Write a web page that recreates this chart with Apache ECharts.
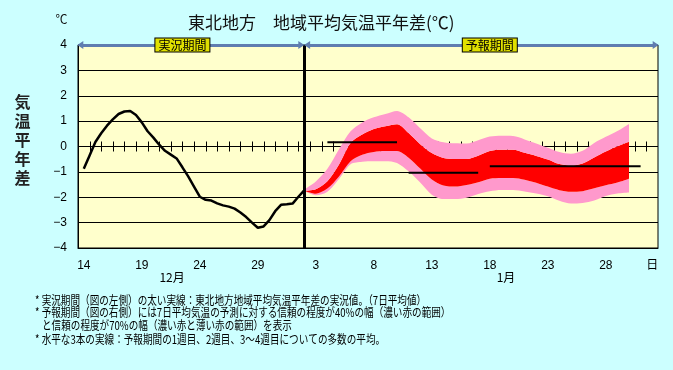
<!DOCTYPE html>
<html><head><meta charset="utf-8">
<script src="https://cdn.jsdelivr.net/npm/echarts@6/dist/echarts.min.js"></script>
<style>html,body{margin:0;padding:0;background:#ccffff;}#c{width:673px;height:370px;}</style>
</head><body><div id="c"></div>
<script>
// ---- data ----
const days = ['12/14','12/15','12/16','12/17','12/18','12/19','12/20','12/21','12/22','12/23','12/24','12/25','12/26','12/27','12/28','12/29','12/30','12/31',
  '1/1','1/2','1/3','1/4','1/5','1/6','1/7','1/8','1/9','1/10','1/11','1/12','1/13','1/14','1/15','1/16','1/17','1/18','1/19','1/20','1/21','1/22','1/23','1/24','1/25','1/26','1/27','1/28','1/29','1/30','1/31','2/1'];
const monthAt = ['12/22','1/20'];
const monthNames = ['12月','1月'];
const xUnit = '日';
const periodNames = ['実況期間','予報期間'];

// observed 7-day mean anomaly (day offset from 12/14, value)
const obsDay = [0,0.5,1,1.5,2,2.5,3,3.5,4,4.5,5,5.5,6,6.5,7,7.5,8,8.5,9,9.5,10,10.5,11,11.5,12,12.5,13,13.5,14,14.5,15,15.5,16,16.5,17,17.5,18,18.5,19];
const obsVal = [-0.88,-0.35,0.18,0.52,0.82,1.07,1.28,1.38,1.40,1.24,0.95,0.60,0.35,0.07,-0.17,-0.32,-0.47,-0.82,-1.18,-1.58,-1.98,-2.10,-2.13,-2.24,-2.32,-2.37,-2.45,-2.60,-2.78,-3.00,-3.20,-3.15,-2.90,-2.55,-2.30,-2.28,-2.25,-1.98,-1.73];

// forecast bands from 1/2 to 1/30
const bandFrom = '1/2';
const upper70 = [-1.70,-1.38,-0.88,-0.11,0.60,0.95,1.15,1.28,1.40,1.15,0.72,0.32,0.17,0.13,0.12,0.25,0.39,0.42,0.41,0.28,0.12,-0.05,-0.22,-0.29,-0.17,0.14,0.38,0.61,0.89];
const upper40 = [-1.74,-1.68,-1.37,-0.71,0.14,0.47,0.69,0.80,0.88,0.53,0.09,-0.26,-0.45,-0.49,-0.49,-0.36,-0.18,-0.13,-0.13,-0.25,-0.37,-0.51,-0.69,-0.75,-0.67,-0.43,-0.20,0.01,0.19];
const lower40 = [-1.74,-1.86,-1.66,-1.18,-0.58,-0.33,-0.22,-0.18,-0.18,-0.44,-0.87,-1.30,-1.54,-1.58,-1.52,-1.41,-1.27,-1.24,-1.24,-1.31,-1.43,-1.58,-1.72,-1.78,-1.76,-1.65,-1.53,-1.42,-1.27];
const lower70 = [-1.74,-1.92,-1.78,-1.28,-0.70,-0.60,-0.58,-0.58,-0.65,-0.98,-1.42,-1.90,-2.07,-2.07,-2.02,-1.87,-1.76,-1.71,-1.71,-1.77,-1.85,-1.96,-2.14,-2.25,-2.23,-2.13,-1.95,-1.85,-1.81];

// weekly means (week1, week2, weeks3-4)
const weekStart = ['1/4','1/11','1/18'];
const weekEnd = ['1/10','1/17','1/31'];
const weekMean = [0.17,-1.03,-0.78];

const notes = [
  '* 実況期間（図の左側）の太い実線：東北地方地域平均気温平年差の実況値。（7日平均値）',
  '* 予報期間（図の右側）には7日平均気温の予測に対する信頼の程度が40%の幅（濃い赤の範囲）',
  'と信頼の程度が70%の幅（濃い赤と薄い赤の範囲）を表示',
  '* 水平な3本の実線：予報期間の1週目、2週目、3～4週目についての多数の平均。'
];
const titleText = '東北地方　地域平均気温平年差(℃)';
const yName = '気温平年差';
const yUnit = '℃';

// ---- build ----
const FONT = "'Liberation Sans','Noto Sans CJK JP',sans-serif";
const JFONT = "'Noto Sans CJK JP',sans-serif";
const b0 = days.indexOf(bandFrom);
function pad(arr){ const out = days.map(()=>null); arr.forEach((v,i)=>{ out[b0+i] = v; }); return out; }
const diff = (a,b)=>a.map((v,i)=>+(v-b[i]).toFixed(3));

function layer(data, color){
  const s = {type:'line', xAxisIndex:0, yAxisIndex:0, stack:'band', stackStrategy:'all', data:data,
    smooth:0.3, symbol:'none', showSymbol:false, lineStyle:{width:0, opacity:0}, z:2, silent:true};
  if (color) s.areaStyle = {color:color, opacity:1};
  return s;
}
const PINK = '#ff99cc', RED = '#ff0000', ARROW = '#5f7db0';

const weekSeries = weekMean.map((m,w)=>{
  const a = days.indexOf(weekStart[w]), b = days.indexOf(weekEnd[w]);
  return {type:'line', xAxisIndex:0, yAxisIndex:0, data: days.map((d,i)=> (i>=a && i<=b) ? m : null),
    symbol:'none', showSymbol:false, lineStyle:{color:'#000', width:2}, z:4, silent:true};
});

// day boundaries for the tick marks on the zero line
const dayBounds = days.slice(1).map((d,i)=>[i+0.5, 0]);

const lastObs = obsDay[obsDay.length-1];
const arrowStyle = {color:ARROW, width:3, type:'solid'};

function monthAxis(k, padding){
  return {type:'category', data:days, boundaryGap:true, position:'bottom', offset:11,
    axisLine:{show:false, onZero:false}, axisTick:{show:false}, splitLine:{show:false},
    axisLabel:{color:'#000', fontSize:12, margin:12, fontFamily:JFONT, padding:padding,
      interval:(i)=> days[i]===monthAt[k], formatter:()=> monthNames[k]}};
}

const chart = echarts.init(document.getElementById('c'));
chart.setOption({
  animation:false,
  backgroundColor:'#ccffff',
  grid:{left:78, top:45, width:580, height:203, show:true, backgroundColor:'#ffffcc', borderColor:'#000', borderWidth:1},
  xAxis:[
    {type:'category', data:days, boundaryGap:true, position:'bottom',
     axisLine:{show:true, onZero:false, lineStyle:{color:'#000'}}, axisTick:{show:false}, splitLine:{show:false},
     axisLabel:{color:'#000', fontSize:12, margin:12, fontFamily:FONT,
       interval:(i)=> (i%5===0 && i<=45) || i===days.length-1,
       formatter:(v,i)=> i===days.length-1 ? xUnit : v.split('/')[1]}},
    {type:'value', min:-0.5, max:49.5, show:false, axisLine:{onZero:false}, splitLine:{show:false}},
    monthAxis(0, [0,9,0,0]),
    monthAxis(1, [0,14,0,0])
  ],
  yAxis:{type:'value', min:-4, max:4, interval:1,
    axisLine:{show:true, onZero:false, lineStyle:{color:'#000'}}, axisTick:{show:false},
    splitLine:{show:true, lineStyle:{color:'#000', width:1}},
    axisLabel:{color:'#000', fontSize:12, margin:11, fontFamily:FONT,
      formatter:(v)=> v<0 ? '\u2212'+Math.abs(v) : String(v)}},
  series:[
    {type:'custom', xAxisIndex:1, yAxisIndex:0, z:1, silent:true, clip:false, data:dayBounds,
     encode:{x:0, y:1},
     renderItem:(params, api)=>{
       const p = api.coord([api.value(0), api.value(1)]);
       const x = Math.round(p[0]) + 0.5;
       return {type:'line', shape:{x1:x, y1:p[1]-5, x2:x, y2:p[1]+5}, style:{stroke:'#000', lineWidth:1}};
     }},
    layer(pad(lower70), null),
    layer(pad(diff(lower40, lower70)), PINK),
    layer(pad(diff(upper40, lower40)), RED),
    layer(pad(diff(upper70, upper40)), PINK),
    ...weekSeries,
    {type:'line', xAxisIndex:1, yAxisIndex:0, data: obsDay.map((d,i)=>[d, obsVal[i]]),
     symbol:'none', showSymbol:false, lineStyle:{color:'#000', width:2.5}, z:5, clip:false, silent:true,
     markLine:{silent:true, symbol:['none','none'], label:{show:false}, animation:false,
       data:[
         {xAxis:lastObs, lineStyle:{color:'#000', width:3, type:'solid'}},
         [{coord:[-0.3,4], symbol:'triangle', symbolSize:[8,6], lineStyle:arrowStyle},
          {coord:[lastObs-0.25,4], symbol:'triangle', symbolSize:[8,6], lineStyle:arrowStyle}],
         [{coord:[lastObs+0.25,4], symbol:'triangle', symbolSize:[8,6], lineStyle:arrowStyle},
          {coord:[49.3,4], symbol:'triangle', symbolSize:[8,6], lineStyle:arrowStyle}]
       ]},
     markPoint:{silent:true, symbol:'rect', symbolSize:1, itemStyle:{color:'rgba(0,0,0,0)'},
       label:{show:true, position:'inside', formatter:'{b}', color:'#000', fontSize:12, fontFamily:JFONT,
         backgroundColor:'#e0e000', borderColor:'#000', borderWidth:1, padding:[1,3,0,3]},
       data:[{name:periodNames[0], coord:[8.5,4]}, {name:periodNames[1], coord:[35,4]}]}}
  ],
  graphic:[
    {type:'text', x:188, y:22.5, silent:true, style:{text:titleText, fontSize:17, fontFamily:JFONT, fill:'#111', verticalAlign:'middle'}},
    {type:'text', x:61.5, y:19, silent:true, style:{text:yUnit, fontSize:12, fontFamily:JFONT, fill:'#111', align:'center', verticalAlign:'middle'}},
    {type:'text', x:22.5, y:139.5, silent:true, style:{text:yName.split('').join('\n'), fontSize:16, fontWeight:'bold', lineHeight:19, fontFamily:JFONT, fill:'#222', align:'center', verticalAlign:'middle'}},
    {type:'text', x:35, y:300, scaleX:0.8, silent:true, style:{text:notes[0], fontSize:12, fontFamily:JFONT, fill:'#000', verticalAlign:'middle'}},
    {type:'text', x:35, y:312.5, scaleX:0.8, silent:true, style:{text:notes[1], fontSize:12, fontFamily:JFONT, fill:'#000', verticalAlign:'middle'}},
    {type:'text', x:42, y:325.5, scaleX:0.8, silent:true, style:{text:notes[2], fontSize:12, fontFamily:JFONT, fill:'#000', verticalAlign:'middle'}},
    {type:'text', x:35, y:339.5, scaleX:0.8, silent:true, style:{text:notes[3], fontSize:12, fontFamily:JFONT, fill:'#000', verticalAlign:'middle'}}
  ]
});
</script></body></html>
